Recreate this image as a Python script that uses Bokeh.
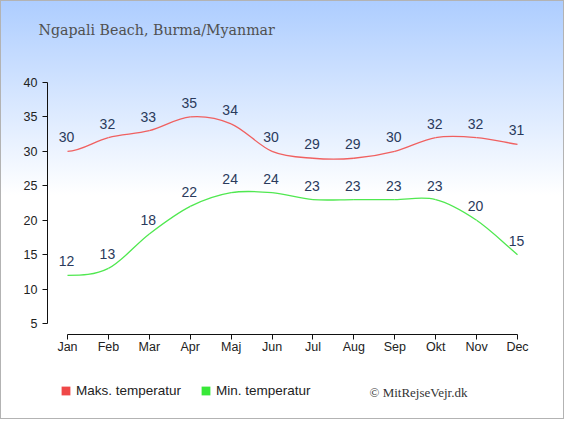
from bokeh.plotting import figure
from bokeh.models import (ColumnDataSource, Range1d, LinearAxis, FixedTicker,
                          Label, Legend, LegendItem)
from bokeh.core.properties import value
from bokeh.embed import file_html
from bokeh.resources import INLINE

months = ["Jan", "Feb", "Mar", "Apr", "Maj", "Jun", "Jul", "Aug", "Sep", "Okt", "Nov", "Dec"]
max_temp = [30, 32, 33, 35, 34, 30, 29, 29, 30, 32, 32, 31]
min_temp = [12, 13, 18, 22, 24, 24, 23, 23, 23, 23, 20, 15]
y_ticks = [5, 10, 15, 20, 25, 30, 35, 40]

title_text = "Ngapali Beach, Burma/Myanmar"
legend_max = "Maks. temperatur"
legend_min = "Min. temperatur"
copyright_text = "\u00a9 MitRejseVejr.dk"

RED_LINE = "#f06060"
RED_BOX = "#ef4848"
GREEN_LINE = "#50e850"
GREEN_BOX = "#38e838"
LABEL_COLOR = "#2a3a5c"

W, H = 564, 419
# pixel geometry (figure pixels): Jan at 67, Dec at 517, 40 at 82, 5 at 323
x_idx = list(range(len(months)))
px_per_m = (517 - 67) / 11.0
px_per_u = (323 - 82) / 35.0
x_start = (0 - 67) / px_per_m
x_end = (W - 67) / px_per_m
y_end = 40 + 82 / px_per_u
y_start = 5 - (H - 323) / px_per_u
yaxis_x = (47 - 67) / px_per_m
xaxis_y = 5 - (334 - 323) / px_per_u

p = figure(width=W, height=H, output_backend="svg", toolbar_location=None,
           x_range=Range1d(x_start, x_end), y_range=Range1d(y_start, y_end),
           x_axis_location=None, y_axis_location=None,
           min_border=0,
           styles={"background": "linear-gradient(to bottom, #adcdff 0px, #ffffff 195px, #ffffff 100%)",
                   "outline": "1px solid #b3b3b3", "outline-offset": "-1px"})
p.border_fill_alpha = 0
p.background_fill_alpha = 0
p.outline_line_color = None
p.xgrid.visible = False
p.ygrid.visible = False


def style_axis(ax):
    ax.axis_line_color = "#111111"
    ax.major_tick_line_color = "#111111"
    ax.major_tick_out = 5
    ax.major_tick_in = 0
    ax.minor_tick_line_color = None
    ax.major_label_text_font = "Liberation Sans"
    ax.major_label_text_font_size = "12.5px"
    ax.major_label_text_color = "#222222"


yax = LinearAxis(ticker=FixedTicker(ticks=y_ticks), bounds=(5, 40),
                 fixed_location=yaxis_x)
style_axis(yax)
yax.major_label_standoff = 5
p.add_layout(yax, "left")

xax = LinearAxis(ticker=FixedTicker(ticks=x_idx), bounds=(0, 11),
                 fixed_location=xaxis_y,
                 major_label_overrides={i: m for i, m in enumerate(months)})
style_axis(xax)
xax.major_label_standoff = 0
p.add_layout(xax, "below")


def bezier_source(ys):
    n = len(ys)
    tang = [0.0] * n
    for i in range(1, n - 1):
        tang[i] = (ys[i + 1] - ys[i - 1]) / 2.0
    tang[-1] = float(ys[-1] - ys[-2])
    d = dict(x0=[], y0=[], x1=[], y1=[], cx0=[], cy0=[], cx1=[], cy1=[])
    for i in range(n - 1):
        d["x0"].append(i); d["y0"].append(ys[i])
        d["x1"].append(i + 1); d["y1"].append(ys[i + 1])
        d["cx0"].append(i + 1 / 3); d["cy0"].append(ys[i] + tang[i] / 3)
        d["cx1"].append(i + 2 / 3); d["cy1"].append(ys[i + 1] - tang[i + 1] / 3)
    return ColumnDataSource(d)


for ys, col in ((max_temp, RED_LINE), (min_temp, GREEN_LINE)):
    p.bezier(x0="x0", y0="y0", x1="x1", y1="y1", cx0="cx0", cy0="cy0",
             cx1="cx1", cy1="cy1", source=bezier_source(ys), line_color=col,
             line_width=1.3)

for ys in (max_temp, min_temp):
    src = ColumnDataSource(dict(x=x_idx, y=ys, t=[str(v) for v in ys]))
    p.text(x="x", y="y", text="t", source=src, text_align="center",
           text_baseline="middle", y_offset=-14, x_offset=-1,
           text_font=value("Liberation Sans"), text_font_size="14px",
           text_color=LABEL_COLOR)

# legend swatches: renderers holding a single undrawable (NaN) row
nan = float("nan")
r_max = p.quad(left=[nan], right=[nan], top=[nan], bottom=[nan],
               fill_color=RED_BOX, line_color=None)
r_min = p.quad(left=[nan], right=[nan], top=[nan], bottom=[nan],
               fill_color=GREEN_BOX, line_color=None)
legend = Legend(items=[LegendItem(label=legend_max, renderers=[r_max]),
                       LegendItem(label=legend_min, renderers=[r_min])],
                orientation="horizontal", location=(60, H - 398),
                glyph_width=11, glyph_height=11, label_standoff=5, spacing=19,
                padding=0, margin=0, border_line_color=None,
                background_fill_alpha=0,
                label_text_font="Liberation Sans", label_text_font_size="13.5px",
                label_text_color="#222222")
p.add_layout(legend, "center")

p.add_layout(Label(x=38, y=H - 29, x_units="screen", y_units="screen",
                   text=title_text, text_font="DejaVu Serif", text_font_size="14.2px",
                   text_color="#505050", text_baseline="alphabetic"))
p.add_layout(Label(x=369, y=H - 392, x_units="screen", y_units="screen",
                   text=copyright_text, text_font="Liberation Serif", text_font_size="13px",
                   text_color="#333333", text_baseline="alphabetic"))

open("out.html", "w").write(file_html(p, INLINE))
